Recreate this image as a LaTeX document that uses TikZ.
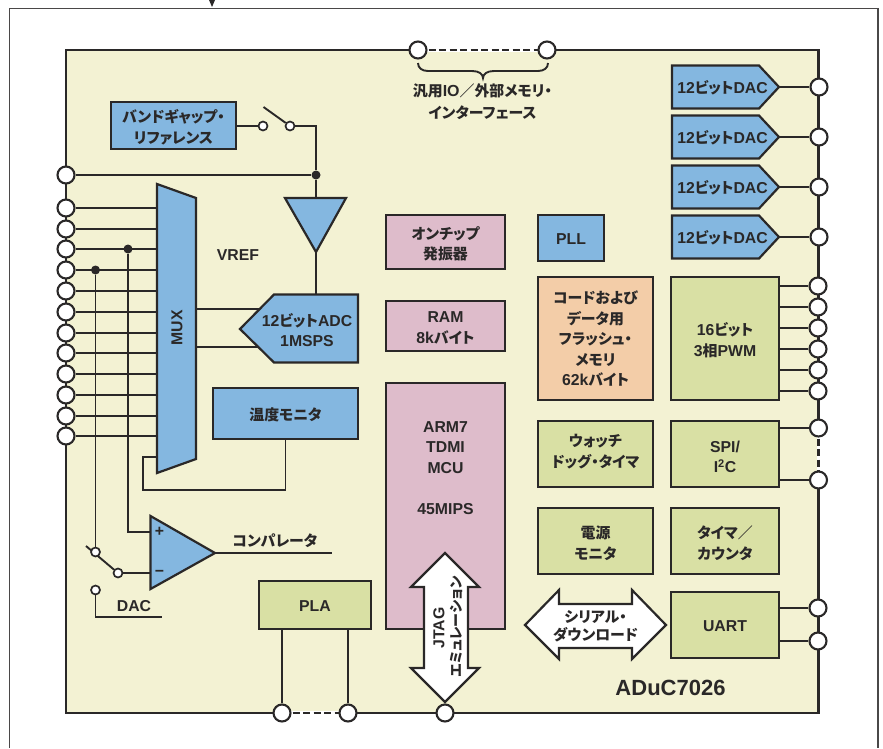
\documentclass[tikz,border=0pt]{standalone}
\usepackage{fontspec}
\setmainfont{Liberation Sans}
\newfontfamily\jfam{Noto Sans CJK JP}[RawFeature=+palt]
\newcommand{\jp}[1]{{\jfam\fontsize{14.9}{20.5}\selectfont #1}}
% style, name, centre, width, height, text position, text
\newcommand{\blk}[7]{\node[#1,minimum width=#4pt,minimum height=#5pt] (#2) at #3 {};\node[lbl] (#2t) at #6 {#7};}
\definecolor{ink}{HTML}{2A2828}
\definecolor{cream}{HTML}{F3F2D3}
\definecolor{bluebox}{HTML}{84B7E0}
\definecolor{pinkbox}{HTML}{DEBCCB}
\definecolor{greenbox}{HTML}{D9E0A4}
\definecolor{orangebox}{HTML}{F3CDA8}
\tikzset{
  lbl/.style={text=ink,align=center,inner sep=0pt,font=\fontsize{15.8}{20.5}\selectfont\bfseries},
  wire/.style={draw=ink,line width=1.9pt},
  thinwire/.style={draw=ink,line width=1.5pt},
  blockbase/.style={draw=ink,line width=2.2pt,rectangle},
  bluefill/.style={blockbase,fill=bluebox},
  pinkfill/.style={blockbase,fill=pinkbox},
  greenfill/.style={blockbase,fill=greenbox},
  orangefill/.style={blockbase,fill=orangebox},
  sh/.style={draw=ink,line width=2.2pt,line join=miter},
  pin/.style={circle,draw=ink,fill=white,line width=2.1pt,minimum size=17pt,inner sep=0pt},
  tinypin/.style={circle,draw=ink,fill=white,line width=1.7pt,minimum size=9pt,inner sep=0pt},
  dotj/.style={circle,fill=ink,minimum size=9pt,inner sep=0pt},
  dashlink/.style={draw=ink,line width=2.8pt,dash pattern=on 7pt off 3.5pt},
  gapline/.style={draw=white,line width=3.6pt}
}
\begin{document}
\begin{tikzpicture}[x=1pt,y=-1pt]
\useasboundingbox (0,0) rectangle (883,748);
% outer frame
\coordinate (fA) at (9.5,748);
\coordinate (fB) at (9.5,8.5);
\coordinate (fC) at (878,8.5);
\coordinate (fD) at (878,748);
\draw[draw=ink!85,line width=1.8pt] (fA) -- (fB) -- (fC) -- (fD);
\coordinate (ar1) at (209,0);
\coordinate (ar2) at (215,0);
\coordinate (ar3) at (212,7);
\fill[ink] (ar1) -- (ar2) -- (ar3) -- cycle;
% chip
\draw[draw=ink,fill=cream,line width=2.8pt] (66,50) rectangle (818.5,713);
% dashed border parts sit under the pins
\coordinate (T1c) at (418,50);
\coordinate (T2c) at (547,50);
\coordinate (B1c) at (282,713);
\coordinate (B2c) at (348,713);
\coordinate (S1c) at (818.5,428);
\coordinate (S2c) at (818.5,480);
\draw[gapline] (T1c) -- (T2c);
\draw[dashlink] (T1c) -- (T2c);
\draw[gapline] (B1c) -- (B2c);
\draw[dashlink] (B1c) -- (B2c);
\draw[gapline] (S1c) -- (S2c);
\draw[dashlink] (S1c) -- (S2c);
% pins left
\foreach \n/\y in {1/175,2/208,3/229,4/249,5/270,6/291,7/312,8/333,9/353,10/374,11/395,12/416,13/436}
  \node[pin] (L\n) at (66,\y) {};
% pins top and bottom
\node[pin] (T1) at (T1c) {};
\node[pin] (T2) at (T2c) {};
\node[pin] (B1) at (B1c) {};
\node[pin] (B2) at (B2c) {};
\node[pin] (B3) at (445,713) {};
% pins right
\foreach \n/\y in {1/87,2/137,3/187,4/237}
  \node[pin] (RD\n) at (819,\y) {};
\foreach \n/\y in {1/286,2/307,3/328,4/349,5/370,6/391}
  \node[pin] (RP\n) at (818,\y) {};
\node[pin] (RS1) at (S1c) {};
\node[pin] (RS2) at (S2c) {};
\node[pin] (RU1) at (818,608) {};
\node[pin] (RU2) at (818,641) {};
% brace
\coordinate (brL) at (418,63);
\coordinate (brR) at (548,63);
\draw[wire] (brL) .. controls (418,68) and (422,71) .. (428,71) -- (472,71)
  .. controls (479,71) and (483,74) .. (483,78)
  .. controls (483,74) and (487,71) .. (494,71) -- (538,71)
  .. controls (544,71) and (548,68) .. (brR);
\node[lbl,font=\fontsize{16}{22}\selectfont\bfseries] (gpio) at (482.5,102) {\jp{汎用}IO\jp{／外部メモリ・}\\\jp{インターフェース}};
% bandgap and switch
\blk{bluefill}{bg}{(173.5,125.5)}{125}{47}{(173.5,127)}{\jp{バンドギャップ・}\\\jp{リファレンス}}
\node[tinypin] (sw1) at (263,126) {};
\node[tinypin] (sw2) at (290,126) {};
\coordinate (lever1) at (263.5,107);
\draw[wire] (bg.east |- sw1) -- (sw1);
\draw[wire] (lever1) -- (sw2);
% buffer
\coordinate (bufA) at (285,198);
\coordinate (bufB) at (346,198);
\coordinate (bufC) at (316,252);
\coordinate (bufT) at (316,198);
\coordinate (adcT) at (316,294);
\node[dotj] (vrefdot) at (316,175) {};
\draw[wire] (sw2) -| (vrefdot);
\draw[wire] (vrefdot) -- (bufT);
\draw[wire] (L1) -- (vrefdot);
\draw[wire] (bufC) -- (adcT);
\draw[sh,fill=bluebox] (bufA) -- (bufB) -- (bufC) -- cycle;
\node[lbl] (vref) at (238,255) {VREF};
% MUX coordinates
\coordinate (muxA) at (157,184);
\coordinate (muxB) at (196,198);
\coordinate (muxC) at (196,459);
\coordinate (muxD) at (157,473);
\foreach \n in {2,...,13}
  \draw[wire] (L\n) -- (L\n -| muxA);
% junctions and wires to comparator
\node[dotj] (d1) at (128,249) {};
\node[dotj] (d2) at (95.5,270) {};
\node[tinypin] (sb) at (118,573) {};
\coordinate (lever2) at (86,546);
\draw[wire] (lever2) -- (sb);
\node[tinypin] (sa) at (95.5,552) {};
\node[tinypin] (sc) at (95.5,590) {};
\coordinate (cmpA) at (150.5,516);
\coordinate (cmpB) at (150.5,589);
\coordinate (cmpC) at (215,553);
\coordinate (cmpP) at (150.5,532);
\coordinate (cmpM) at (150.5,573);
\coordinate (dacEnd) at (162,617);
\coordinate (cmpOut) at (332,553);
\draw[wire] (d1) |- (cmpP);
\draw[wire] (d2) -- (sa);
\draw[wire] (sb) -- (cmpM);
\draw[wire] (sc) |- (dacEnd);
\draw[wire] (cmpC) -- (cmpOut);
\draw[sh,fill=bluebox] (cmpA) -- (cmpC) -- (cmpB) -- cycle;
\node[lbl] (plus) at (159.5,532) {+};
\node[lbl] (minus) at (159.5,573) {−};
\node[lbl] (cmplbl) at (275,541) {\jp{コンパレータ}};
\node[lbl] (daclbl) at (134,606) {DAC};
% temperature monitor loop
\blk{bluefill}{temp}{(285.5,413.5)}{145}{51}{(285.5,415)}{\jp{温度モニタ}}
\coordinate (loopA) at (143,490);
\coordinate (loopB) at (157,457);
\draw[thinwire] (temp.south) |- (loopA) |- (loopB);
% ADC wires
\coordinate (mr1) at (196,309);
\coordinate (mr2) at (196,347);
\coordinate (adcL1) at (262,309);
\coordinate (adcL2) at (262,347);
\draw[thinwire] (mr1) -- (adcL1);
\draw[thinwire] (mr2) -- (adcL2);
\draw[sh,fill=bluebox] (muxA) -- (muxB) -- (muxC) -- (muxD) -- cycle;
\node[lbl,rotate=90] (muxlbl) at (177,328) {MUX};
\draw[sh,fill=bluebox] (274,294.5) -- (358,294.5) -- (358,362.5) -- (274,362.5) -- (240,329) -- cycle;
\node[lbl] (adclbl) at (307,330) {12\jp{ビット}ADC\\1MSPS};
% middle column
\blk{pinkfill}{osc}{(445.5,242)}{119}{54}{(445.5,244)}{\jp{オンチップ}\\\jp{発振器}}
\blk{pinkfill}{ram}{(445.5,326)}{119}{50}{(445.5,328)}{RAM\\8k\jp{バイト}}
\blk{pinkfill}{mcu}{(445.5,506)}{119}{246}{(445.5,468)}{ARM7\\TDMI\\MCU\\[20.5pt]45MIPS}
% PLA
\blk{greenfill}{pla}{(315,605)}{112}{48}{(315,606)}{PLA}
\draw[wire] (pla.south -| B1) -- (B1);
\draw[wire] (pla.south -| B2) -- (B2);
% JTAG arrow
\draw[sh,fill=white] (445,553) -- (479,587) -- (468,587) -- (468,668) -- (479,668) -- (445,702) -- (411,668) -- (424,668) -- (424,587) -- (411,587) -- cycle;
\node[lbl,rotate=90] (jtag) at (439,628) {JTAG};
\node[lbl,rotate=90] (emu) at (456,627) {{\jfam\fontsize{14}{15}\selectfont エミュレーション}};
% right middle column
\blk{bluefill}{pll}{(571,238)}{66}{46}{(571,239)}{PLL}
\blk{orangefill}{flash}{(595.5,338.5)}{115}{123}{(595.5,339)}{\jp{コードおよび}\\\jp{データ用}\\\jp{フラッシュ・}\\\jp{メモリ}\\62k\jp{バイト}}
\blk{greenfill}{wdt}{(595.5,454)}{115}{66}{(595.5,451.5)}{\jp{ウォッチ}\\\jp{ドッグ・タイマ}}
\blk{greenfill}{pwr}{(595.5,541)}{115}{66}{(595.5,543)}{\jp{電源}\\\jp{モニタ}}
% serial arrow
\draw[sh,fill=white] (525,625) -- (559,590) -- (559,604) -- (632,604) -- (632,590) -- (666,625) -- (632,659) -- (632,648) -- (559,648) -- (559,659) -- cycle;
\node[lbl,font=\fontsize{16}{18}\selectfont\bfseries] (serial) at (595.5,626) {\jp{シリアル・}\\\jp{ダウンロード}};
% right column
\blk{greenfill}{pwm}{(725,338.5)}{108}{123}{(725,340)}{16\jp{ビット}\\3\jp{相}PWM}
\blk{greenfill}{spi}{(725,454)}{108}{66}{(725,457)}{SPI/\\I\textsuperscript{2}C}
\blk{greenfill}{tmr}{(725,541)}{108}{66}{(725,543)}{\jp{タイマ／}\\\jp{カウンタ}}
\blk{greenfill}{uart}{(725,625)}{108}{66}{(725,626)}{UART}
\foreach \n in {1,...,6}
  \draw[wire] (pwm.east |- RP\n) -- (RP\n);
\draw[wire] (spi.east |- RS1) -- (RS1);
\draw[wire] (spi.east |- RS2) -- (RS2);
\draw[wire] (uart.east |- RU1) -- (RU1);
\draw[wire] (uart.east |- RU2) -- (RU2);
% DACs
\foreach \n/\y in {1/87,2/137,3/187,4/237}{
  \coordinate (dt\n) at (779,\y);
  \draw[wire] (dt\n) -- (RD\n);
  \draw[sh,fill=bluebox] (672,\y-21.5) -- (759,\y-21.5) -- (dt\n) -- (759,\y+21.5) -- (672,\y+21.5) -- cycle;
  \node[lbl] (dl\n) at (722.5,\y+1) {12\jp{ビット}DAC};
}
\node[lbl,font=\fontsize{22}{24}\selectfont\bfseries] (name) at (670.5,688) {ADuC7026};
\end{tikzpicture}
\end{document}
